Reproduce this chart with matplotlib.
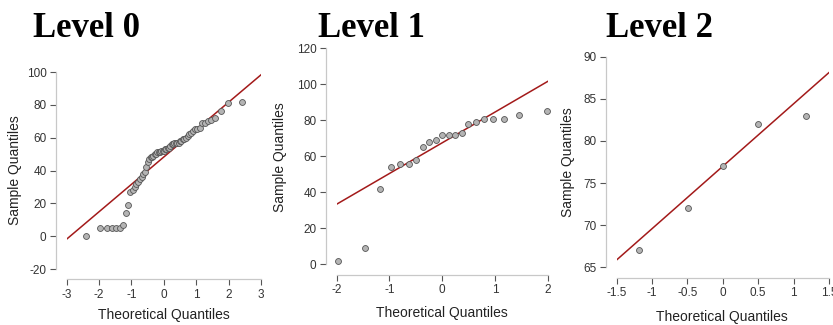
from statistics import NormalDist

import matplotlib
matplotlib.use('Agg')
import matplotlib.pyplot as plt
import numpy as np

plt.rcParams['font.family'] = ['Liberation Sans', 'DejaVu Sans']
plt.rcParams['axes.unicode_minus'] = False

# sample values of each level (sorted)
level0 = [0, 5, 5, 5, 5, 5, 7, 14, 19, 27, 28, 30, 32, 33, 35, 36, 38, 39, 42, 45,
          47, 48, 48, 49, 50, 50, 51, 51, 51, 52, 52,
          52, 53, 53, 54, 54, 55, 56, 56, 57, 57, 57, 57, 58, 58, 59, 59, 60, 61,
          62, 63, 64, 65, 65, 66, 69, 69, 70, 71, 72, 76, 81, 82]
level1 = [2, 9, 42, 54, 56, 56, 58, 65, 68, 69, 72, 72, 72, 73, 78, 79, 81, 81, 81, 83, 85]
level2 = [67, 72, 77, 82, 83]

titles = ['Level 0', 'Level 1', 'Level 2']
x_ticks = [[-3, -2, -1, 0, 1, 2, 3],
           [-2, -1, 0, 1, 2],
           [-1.5, -1, -0.5, 0, 0.5, 1, 1.5]]
x_labels = [['-3', '-2', '-1', '0', '1', '2', '3'],
            ['-2', '-1', '0', '1', '2'],
            ['-1.5', '-1', '-0.5', '0', '0.5', '1', '1.5']]
y_ticks = [[-20, 0, 20, 40, 60, 80, 100],
           [0, 20, 40, 60, 80, 100, 120],
           [65, 70, 75, 80, 85, 90]]

W, H = 833, 325
fig = plt.figure(figsize=(W / 100, H / 100), dpi=100)


def box(x0, x1, ytop, ybot):
    return [x0 / W, 1 - ybot / H, (x1 - x0) / W, (ybot - ytop) / H]


# axes boxes in pixels (data area)
boxes = [box(66.7, 261, 72, 269), box(336.7, 547.7, 48.3, 264.3), box(616.7, 829, 56.7, 267.3)]
title_x = [33, 318, 606]
ylab_pos = [(15, 170), (280, 157), (568, 162)]
xlab_pos = [(164, 315), (442, 313), (722, 317)]


def theo_quantiles(n):
    # R ppoints
    a = 3 / 8 if n <= 10 else 0.5
    nd = NormalDist()
    return np.array([nd.inv_cdf((i - a) / (n + 1 - 2 * a)) for i in range(1, n + 1)])


tick_col = '#333333'
for k, vals in enumerate([level0, level1, level2]):
    ax = fig.add_axes(boxes[k])
    y = np.sort(np.array(vals, dtype=float))
    x = theo_quantiles(len(y))
    q1, q3 = np.percentile(y, [25, 75])
    z = NormalDist().inv_cdf(0.75)
    slope = (q3 - q1) / (2 * z)
    icpt = q1 + z * slope
    ax.axline((0, icpt), slope=slope, color='#a31a1a', lw=1.1, zorder=2)
    ax.scatter(x, y, s=18, facecolor='#b4b4b4', edgecolor='#555555', linewidths=0.6, zorder=3,
               clip_on=False)

    ax.set_xlim(x_ticks[k][0], x_ticks[k][-1])
    ax.set_ylim(y_ticks[k][0], y_ticks[k][-1])
    ax.set_xticks(x_ticks[k])
    ax.set_xticklabels(x_labels[k])
    ax.set_yticks(y_ticks[k])
    for s in ['top', 'right']:
        ax.spines[s].set_visible(False)
    ax.spines['left'].set_position(('outward', 7.5))
    ax.spines['bottom'].set_position(('outward', 7.5))
    ax.spines['left'].set_bounds(y_ticks[k][0], y_ticks[k][-1])
    ax.spines['bottom'].set_bounds(x_ticks[k][0], x_ticks[k][-1])
    for s in ['left', 'bottom']:
        ax.spines[s].set_color('#c8c8c8')
        ax.spines[s].set_linewidth(0.9)
    ax.tick_params(length=4, width=0.8, color='#555555', labelsize=8.5, labelcolor=tick_col, pad=3)
    ax.patch.set_visible(False)

    fig.text(title_x[k] / W, 1 - 37 / H, titles[k], family='Liberation Serif',
             fontweight='bold', fontsize=25, va='baseline', ha='left')
    fig.text(ylab_pos[k][0] / W, 1 - ylab_pos[k][1] / H, 'Sample Quantiles', rotation=90,
             ha='center', va='center', fontsize=10, color='#222222')
    fig.text(xlab_pos[k][0] / W, 1 - xlab_pos[k][1] / H, 'Theoretical Quantiles',
             ha='center', va='center', fontsize=10, color='#222222')

fig.savefig('out.png', dpi=100)
